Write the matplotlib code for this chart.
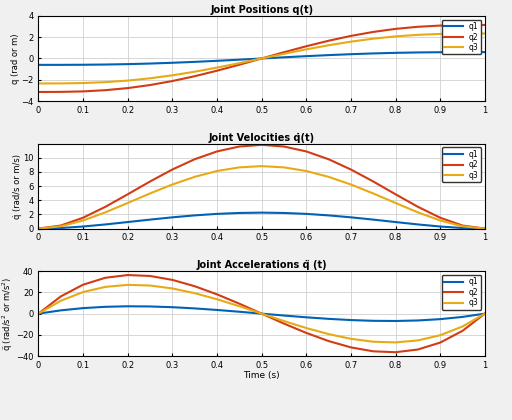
import matplotlib
matplotlib.use("Agg")
import matplotlib.pyplot as plt

t = [0,0.05,0.1,0.15,0.2,0.25,0.3,0.35,0.4,0.45,0.5,0.55,0.6,0.65,0.7,0.75,0.8,0.85,0.9,0.95,1.0]
q1 = [-0.6,-0.599,-0.590,-0.568,-0.531,-0.476,-0.404,-0.318,-0.219,-0.112,0,0.112,0.219,0.318,0.404,0.476,0.531,0.568,0.590,0.599,0.6]
q2 = [-3.15,-3.142,-3.096,-2.982,-2.785,-2.498,-2.123,-1.668,-1.15,-0.587,0,0.587,1.15,1.668,2.123,2.498,2.785,2.982,3.096,3.142,3.15]
q3 = [-2.35,-2.344,-2.310,-2.225,-2.078,-1.864,-1.583,-1.245,-0.858,-0.438,0,0.438,0.858,1.245,1.583,1.864,2.078,2.225,2.310,2.344,2.35]
v1 = [0,0.081,0.292,0.585,0.922,1.266,1.588,1.863,2.074,2.205,2.25,2.205,2.074,1.863,1.588,1.266,0.922,0.585,0.292,0.081,0]
v2 = [0,0.427,1.531,3.073,4.838,6.645,8.335,9.782,10.886,11.578,11.813,11.578,10.886,9.782,8.335,6.645,4.838,3.073,1.531,0.427,0]
v3 = [0,0.318,1.142,2.292,3.61,4.957,6.218,7.298,8.122,8.637,8.813,8.637,8.122,7.298,6.218,4.957,3.61,2.292,1.142,0.318,0]
a1 = [0,3.078,5.184,6.426,6.912,6.75,6.048,4.914,3.456,1.782,0,-1.782,-3.456,-4.914,-6.048,-6.75,-6.912,-6.426,-5.184,-3.078,0]
a2 = [0,16.16,27.22,33.74,36.29,35.44,31.75,25.80,18.14,9.36,0,-9.36,-18.14,-25.80,-31.75,-35.44,-36.29,-33.74,-27.22,-16.16,0]
a3 = [0,12.06,20.30,25.17,27.07,26.44,23.69,19.25,13.54,6.98,0,-6.98,-13.54,-19.25,-23.69,-26.44,-27.07,-25.17,-20.30,-12.06,0]

colors = ["#0062B4", "#D23C14", "#E8AA14"]
labels = ["q1", "q2", "q3"]

fig, axes = plt.subplots(3, 1, figsize=(5.12, 4.2), dpi=100)
fig.patch.set_facecolor("#f0f0f0")
specs = [
    ([q1, q2, q3], "Joint Positions q(t)", "q (rad or m)", (-4, 4), [-4, -2, 0, 2, 4]),
    ([v1, v2, v3], "Joint Velocities q̇(t)", "q̇ (rad/s or m/s)", (0, 12), [0, 2, 4, 6, 8, 10]),
    ([a1, a2, a3], "Joint Accelerations q̈ (t)", "q̈ (rad/s$^2$ or m/s$^2$)", (-40, 40), [-40, -20, 0, 20, 40]),
]
for ax, (ys, title, ylab, ylim, yt) in zip(axes, specs):
    for y, c, l in zip(ys, colors, labels):
        ax.plot(t, y, color=c, lw=1.5, label=l)
    ax.set_xlim(0, 1)
    ax.set_ylim(*ylim)
    ax.set_yticks(yt)
    ax.set_xticks([i / 10 for i in range(11)])
    ax.set_xticklabels(["0", "0.1", "0.2", "0.3", "0.4", "0.5", "0.6", "0.7", "0.8", "0.9", "1"])
    ax.grid(True, color="#d0d0d0", lw=0.6)
    ax.tick_params(labelsize=6, length=2, direction="in")
    ax.set_title(title, fontsize=7, fontweight="bold", pad=2)
    ax.set_ylabel(ylab, fontsize=6, labelpad=1)
    ax.legend(loc="upper right", fontsize=5.5, handlelength=2.5, borderpad=0.3, labelspacing=0.2, framealpha=1, edgecolor="#333333")
axes[2].set_xlabel("Time (s)", fontsize=6.5, labelpad=1)
fig.subplots_adjust(left=0.075, right=0.947, top=0.962, bottom=0.152, hspace=0.5)
fig.savefig("out.png", facecolor=fig.get_facecolor())
